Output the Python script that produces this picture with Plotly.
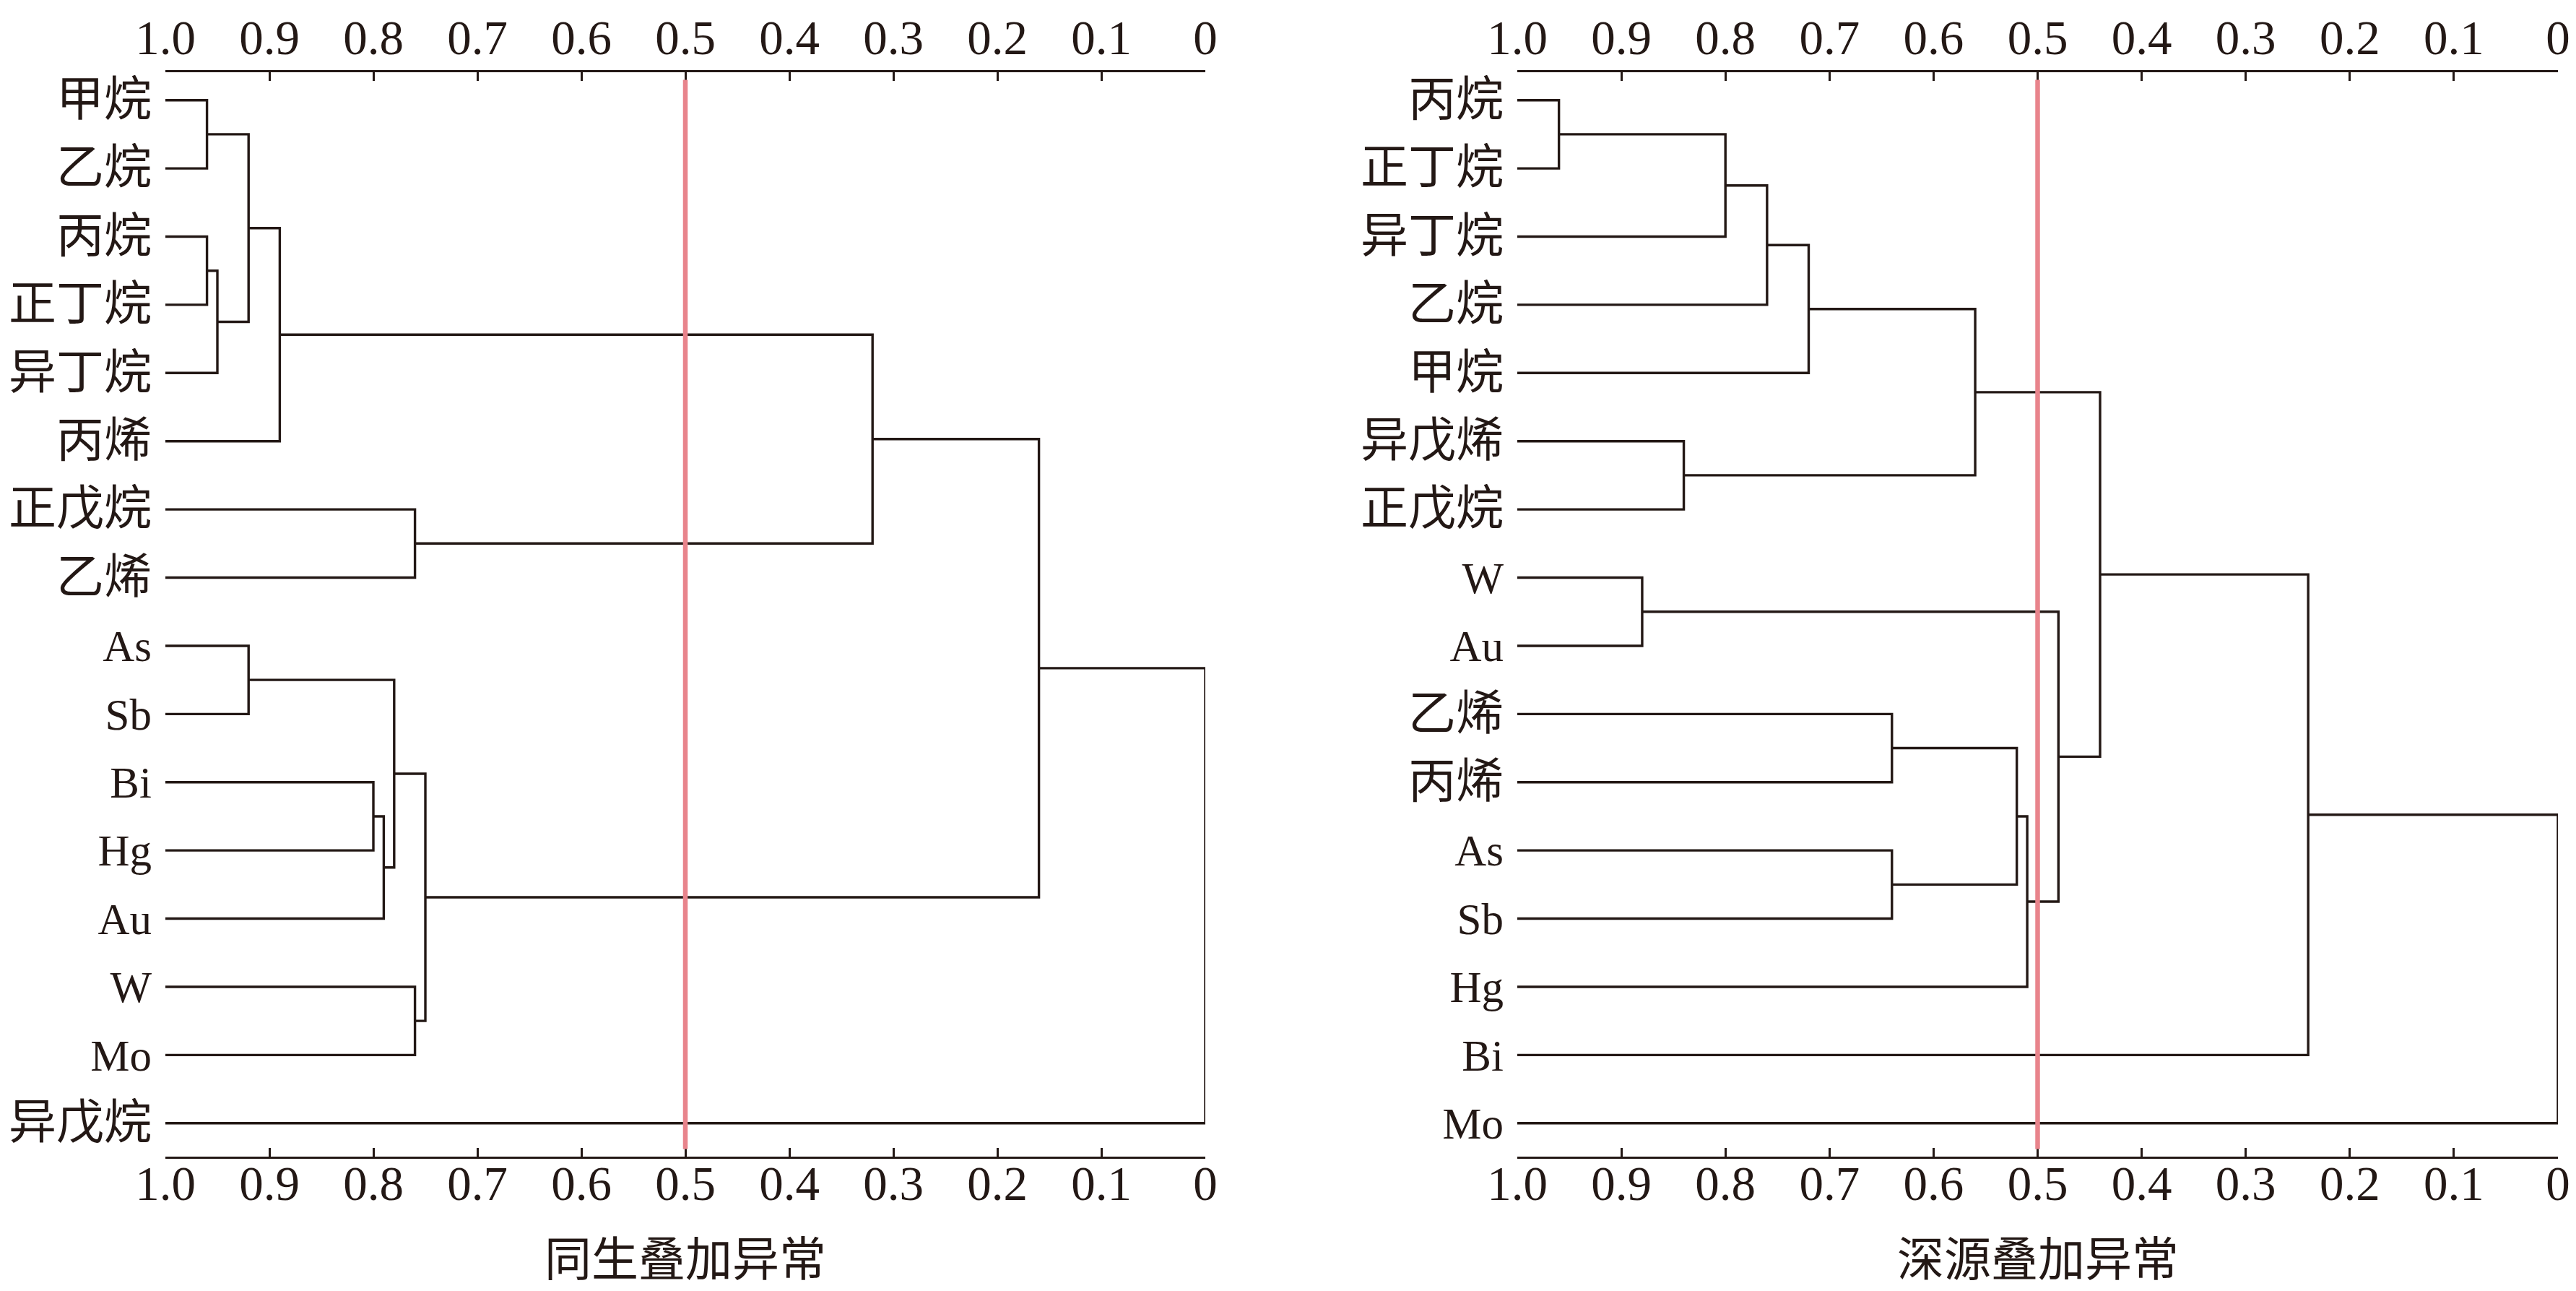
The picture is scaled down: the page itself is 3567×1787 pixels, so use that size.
import re
import plotly.graph_objects as go

# ---------------- data ----------------
tick_vals = [1.0, 0.9, 0.8, 0.7, 0.6, 0.5, 0.4, 0.3, 0.2, 0.1, 0.0]
tick_text = ["1.0", "0.9", "0.8", "0.7", "0.6", "0.5", "0.4", "0.3", "0.2", "0.1", "0"]

# Panel A: 同生叠加异常
leaves_a = ["甲烷", "乙烷", "丙烷", "正丁烷", "异丁烷", "丙烯", "正戊烷", "乙烯",
            "As", "Sb", "Bi", "Hg", "Au", "W", "Mo", "异戊烷"]
merge_left_a = ["甲烷", "丙烷", "c2", "c1", "c4", "正戊烷", "c5", "As", "Bi", "c9", "c8", "W", "c11", "c7", "c14"]
merge_right_a = ["乙烷", "正丁烷", "异丁烷", "c3", "丙烯", "乙烯", "c6", "Sb", "Hg", "Au", "c10", "Mo", "c12", "c13", "异戊烷"]
merge_sim_a = [0.96, 0.96, 0.95, 0.92, 0.89, 0.76, 0.32, 0.92, 0.80, 0.79, 0.78, 0.76, 0.75, 0.16, 0.0]
title_a = "同生叠加异常"

# Panel B: 深源叠加异常
leaves_b = ["丙烷", "正丁烷", "异丁烷", "乙烷", "甲烷", "异戊烯", "正戊烷", "W", "Au",
            "乙烯", "丙烯", "As", "Sb", "Hg", "Bi", "Mo"]
merge_left_b = ["丙烷", "c1", "c2", "c3", "异戊烯", "c4", "W", "乙烯", "As", "c8", "c10", "c7", "c6", "c13", "c14"]
merge_right_b = ["正丁烷", "异丁烷", "乙烷", "甲烷", "正戊烷", "c5", "Au", "丙烯", "Sb", "c9", "Hg", "c11", "c12", "Bi", "Mo"]
merge_sim_b = [0.96, 0.80, 0.76, 0.72, 0.84, 0.56, 0.88, 0.64, 0.64, 0.52, 0.51, 0.48, 0.44, 0.24, 0.0]
title_b = "深源叠加异常"

threshold = 0.5

# ---------------- styling ----------------
LINE_COLOR = "#231815"
RED = "#E8848C"
FONT = "Liberation Serif, Noto Sans CJK SC, serif"
W, H = 3567, 1787

x_domains = [[221 / W, 1661 / W], [2093 / W, 3534 / W]]
y_domain = [1 - 1593 / H, 1 - 92 / H]
y_range = [15.49, -0.41]


def label_html(name):
    if re.search(r"[\u4e00-\u9fff]", name):
        return '<span style="font-size:66px">%s</span>' % name
    return name


def dendro_paths(leaves, lefts, rights, sims):
    pos = {name: (1.0, float(i)) for i, name in enumerate(leaves)}
    xs, ys = [], []
    for k, (a, b, s) in enumerate(zip(lefts, rights, sims), start=1):
        ha, ya = pos[a]
        hb, yb = pos[b]
        xs += [ha, s, s, hb, None]
        ys += [ya, ya, yb, yb, None]
        pos["c%d" % k] = (s, (ya + yb) / 2)
    return xs, ys


fig = go.Figure()

panels = [(leaves_a, merge_left_a, merge_right_a, merge_sim_a, title_a),
          (leaves_b, merge_left_b, merge_right_b, merge_sim_b, title_b)]

for i, (leaves, lefts, rights, sims, title) in enumerate(panels):
    xa = "x" if i == 0 else "x2"
    ya = "y" if i == 0 else "y2"
    xtop = "x3" if i == 0 else "x4"
    xs, ys = dendro_paths(leaves, lefts, rights, sims)
    fig.add_trace(go.Scatter(x=xs, y=ys, mode="lines", xaxis=xa, yaxis=ya,
                             line=dict(color=LINE_COLOR, width=3.4),
                             showlegend=False, hoverinfo="skip"))
    fig.add_trace(go.Scatter(x=[None], y=[None], xaxis=xtop, yaxis=ya,
                             showlegend=False, hoverinfo="skip"))

    common_x = dict(range=[1.0, 0.0], domain=x_domains[i], tickmode="array",
                    tickvals=tick_vals, ticktext=tick_text, ticks="inside",
                    ticklen=12, tickwidth=3.4, tickcolor=LINE_COLOR,
                    showline=True, linewidth=3.4, linecolor=LINE_COLOR,
                    showgrid=False, zeroline=False, automargin=False,
                    tickfont=dict(family=FONT, size=67, color=LINE_COLOR))
    yax = dict(range=y_range, domain=y_domain, tickmode="array",
               tickvals=list(range(len(leaves))),
               ticktext=[label_html(n) for n in leaves],
               ticks="", showline=False, showgrid=False, zeroline=False,
               automargin=False, ticklabelstandoff=18,
               tickfont=dict(family=FONT, size=61, color=LINE_COLOR))
    if i == 0:
        fig.update_layout(xaxis=dict(anchor="y", side="bottom", ticklabelstandoff=-24, **common_x),
                          xaxis3=dict(anchor="y", side="top", overlaying="x", ticklabelstandoff=-5, **common_x),
                          yaxis=dict(anchor="x", **yax))
    else:
        fig.update_layout(xaxis2=dict(anchor="y2", side="bottom", ticklabelstandoff=-24, **common_x),
                          xaxis4=dict(anchor="y2", side="top", overlaying="x2", ticklabelstandoff=-5, **common_x),
                          yaxis2=dict(anchor="x2", **yax))

    fig.add_shape(type="line", xref=xa, yref=ya + " domain",
                  x0=threshold, x1=threshold, y0=0.007, y1=0.993,
                  line=dict(color=RED, width=6.5), layer="above")

    fig.add_annotation(text=title, xref="paper", yref="paper",
                       x=sum(x_domains[i]) / 2, y=1 - 1736 / H,
                       xanchor="center", yanchor="middle", showarrow=False,
                       font=dict(family=FONT, size=65, color=LINE_COLOR))

fig.update_layout(width=W, height=H, margin=dict(l=0, r=0, t=0, b=0),
                  paper_bgcolor="white", plot_bgcolor="white")

fig.write_html("out.html")
